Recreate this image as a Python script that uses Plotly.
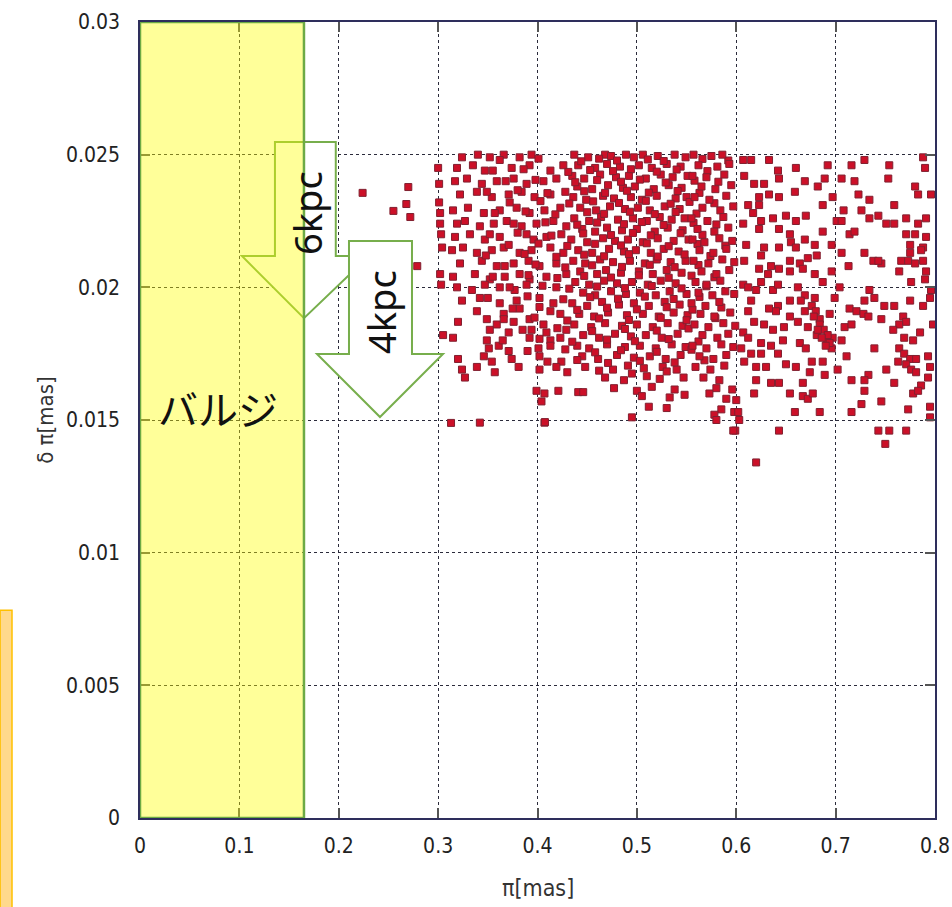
import plotly.graph_objects as go

# ---------------- data ----------------
x_ticks = [0, 0.1, 0.2, 0.3, 0.4, 0.5, 0.6, 0.7, 0.8]
x_tick_labels = ["0", "0.1", "0.2", "0.3", "0.4", "0.5", "0.6", "0.7", "0.8"]
y_ticks = [0, 0.005, 0.01, 0.015, 0.02, 0.025, 0.03]
y_tick_labels = ["0", "0.005", "0.01", "0.015", "0.02", "0.025", "0.03"]

bulge_range = [0.0, 0.165]          # π range of the bulge band (mas)
bulge_label = "バルジ"
arrow_labels = ["6kpc", "4kpc"]

# stars: (parallax π [mas], parallax error δπ [mas])
stars_020_031 = [
    (0.224, .02356), (0.270, .02378), (0.268, .02314), (0.255, .02288), (0.272, .02265), (0.279, .02080),
    (0.300, .02450), (0.301, .02390), (0.301, .02320), (0.302, .02280), (0.302, .02240), (0.303, .02200),
    (0.304, .02150), (0.302, .02050), (0.303, .02010), (0.305, .01820), (0.313, .01489),
]

stars_031_043 = [
    (0.324, .0249), (0.340, .0250), (0.352, .0249), (0.366, .0250), (0.382, .0249), (0.394, .0250),
    (0.319, .0245), (0.335, .0246), (0.347, .0244), (0.374, .0245), (0.392, .0246), (0.413, .0244), (0.426, .0246),
    (0.317, .0240), (0.329, .0241), (0.344, .0239), (0.359, .0240), (0.376, .0241), (0.389, .0239), (0.406, .0240), (0.419, .0241),
    (0.322, .0235), (0.339, .0236), (0.354, .0234), (0.371, .0235), (0.384, .0236), (0.397, .0234), (0.413, .0235), (0.428, .0236),
    (0.315, .0229), (0.330, .0230), (0.346, .0228), (0.362, .0229), (0.379, .0230), (0.392, .0228), (0.407, .0229), (0.423, .0230),
    (0.319, .0224), (0.327, .0225), (0.342, .0223), (0.356, .0224), (0.369, .0225), (0.384, .0223), (0.399, .0224), (0.416, .0225), (0.429, .0223),
    (0.317, .0219), (0.332, .0220), (0.347, .0218), (0.362, .0219), (0.389, .0220), (0.396, .0218), (0.409, .0219), (0.424, .0220),
    (0.314, .0214), (0.325, .0215), (0.339, .0213), (0.354, .0214), (0.366, .0215), (0.382, .0213), (0.394, .0214), (0.413, .0215), (0.426, .0213),
    (0.322, .0209), (0.344, .0210), (0.359, .0208), (0.376, .0209), (0.391, .0210), (0.402, .0208), (0.419, .0209),
    (0.315, .0204), (0.337, .0205), (0.352, .0203), (0.367, .0204), (0.382, .0205), (0.392, .0203), (0.409, .0204), (0.429, .0205),
    (0.319, .0200), (0.334, .0199), (0.347, .0201), (0.362, .0200), (0.377, .0199), (0.389, .0201), (0.419, .0200),
    (0.324, .0195), (0.342, .0196), (0.362, .0194), (0.379, .0195), (0.402, .0196), (0.416, .0194),
    (0.339, .0191), (0.366, .0190), (0.382, .0192), (0.413, .0191), (0.423, .0190),
    (0.320, .0187), (0.349, .0188), (0.359, .0186), (0.376, .0187), (0.392, .0188), (0.406, .0186),
    (0.352, .0184), (0.371, .0183), (0.394, .0184), (0.409, .0183), (0.429, .0184),
    (0.315, .0181), (0.349, .0180), (0.392, .0181), (0.413, .0180), (0.423, .0181),
    (0.351, .0177), (0.361, .0178), (0.371, .0176), (0.401, .0177), (0.413, .0178),
    (0.320, .0173), (0.346, .0174), (0.354, .0172), (0.374, .0173), (0.402, .0174), (0.424, .0172),
    (0.324, .0169), (0.339, .0170), (0.357, .0168), (0.381, .0170), (0.402, .0169), (0.419, .0170),
    (0.327, .0166), (0.399, .0161), (0.407, .0160), (0.421, .0161), (0.404, .0157),
    (0.342, .0149), (0.407, .0149),
]

stars_043_055 = [
    (0.437, .02500), (0.451, .02490), (0.468, .02500), (0.474, .02495), (0.489, .02500), (0.497, .02490), (0.506, .02500), (0.521, .02495), (0.538, .02500), (0.549, .02490),
    (0.441, .02460), (0.458, .02450), (0.470, .02465), (0.483, .02455), (0.502, .02460), (0.515, .02450), (0.530, .02465), (0.544, .02455),
    (0.435, .02420), (0.447, .02410), (0.463, .02425), (0.479, .02415), (0.492, .02420), (0.509, .02410), (0.524, .02425), (0.536, .02415), (0.551, .02420),
    (0.440, .02380), (0.455, .02370), (0.471, .02385), (0.486, .02375), (0.498, .02380), (0.517, .02370), (0.532, .02385), (0.545, .02375),
    (0.436, .02340), (0.449, .02330), (0.466, .02345), (0.477, .02335), (0.494, .02340), (0.505, .02330), (0.520, .02345), (0.539, .02335), (0.550, .02340),
    (0.443, .02300), (0.459, .02290), (0.473, .02305), (0.488, .02295), (0.501, .02300), (0.513, .02290), (0.528, .02305), (0.543, .02295),
    (0.437, .02260), (0.452, .02250), (0.464, .02265), (0.481, .02255), (0.496, .02260), (0.510, .02250), (0.523, .02265), (0.535, .02255), (0.548, .02260),
    (0.445, .02220), (0.458, .02210), (0.470, .02225), (0.485, .02215), (0.500, .02220), (0.518, .02210), (0.531, .02225), (0.546, .02215),
    (0.434, .02180), (0.450, .02170), (0.466, .02185), (0.478, .02175), (0.491, .02180), (0.506, .02170), (0.521, .02185), (0.537, .02175), (0.552, .02180),
    (0.441, .02140), (0.455, .02130), (0.472, .02145), (0.487, .02135), (0.499, .02140), (0.514, .02130), (0.527, .02145), (0.542, .02135),
    (0.436, .02100), (0.448, .02090), (0.463, .02105), (0.476, .02095), (0.493, .02100), (0.508, .02090), (0.520, .02105), (0.534, .02095), (0.549, .02100),
    (0.443, .02060), (0.460, .02050), (0.469, .02065), (0.484, .02055), (0.502, .02060), (0.516, .02050), (0.530, .02065), (0.545, .02055),
    (0.438, .02020), (0.452, .02010), (0.467, .02025), (0.480, .02015), (0.495, .02020), (0.511, .02010), (0.524, .02025), (0.539, .02015),
    (0.446, .01980), (0.458, .01970), (0.474, .01985), (0.489, .01975), (0.503, .01980), (0.519, .01970), (0.533, .01985), (0.550, .01975),
    (0.435, .01940), (0.450, .01930), (0.465, .01945), (0.482, .01935), (0.497, .01940), (0.512, .01930), (0.528, .01945), (0.543, .01935),
    (0.442, .01900), (0.457, .01890), (0.471, .01905), (0.490, .01895), (0.506, .01900), (0.522, .01890), (0.537, .01905), (0.551, .01895),
    (0.437, .01860), (0.454, .01850), (0.468, .01865), (0.485, .01855), (0.500, .01860), (0.516, .01850), (0.531, .01865), (0.546, .01855),
    (0.446, .01820), (0.462, .01810), (0.478, .01825), (0.494, .01815), (0.509, .01820), (0.525, .01810), (0.541, .01825),
    (0.440, .01780), (0.452, .01770), (0.470, .01785), (0.488, .01775), (0.503, .01780), (0.519, .01770), (0.535, .01785), (0.549, .01775),
    (0.445, .01740), (0.461, .01730), (0.480, .01745), (0.497, .01735), (0.513, .01740), (0.529, .01730), (0.544, .01745),
    (0.448, .01700), (0.476, .01690), (0.491, .01705), (0.507, .01695), (0.526, .01700), (0.540, .01690),
    (0.468, .01660), (0.487, .01650), (0.510, .01665), (0.523, .01655), (0.547, .01660),
    (0.477, .01620), (0.500, .01610), (0.515, .01625), (0.538, .01615),
    (0.441, .01605), (0.446, .01605), (0.505, .01590), (0.533, .01585), (0.548, .01595),
    (0.512, .01550), (0.530, .01545), (0.495, .01510), (0.4075, .01492),
]

stars_035_059_fill = [
    (0.362, .02480), (0.401, .02485), (0.444, .02475), (0.462, .02485), (0.480, .02478), (0.511, .02482), (0.527, .02476), (0.566, .02484), (0.592, .02478),
    (0.355, .02440), (0.386, .02445), (0.431, .02435), (0.453, .02442), (0.476, .02438), (0.494, .02445), (0.520, .02436), (0.540, .02444), (0.571, .02438),
    (0.368, .02400), (0.398, .02405), (0.438, .02396), (0.460, .02404), (0.484, .02398), (0.503, .02406), (0.529, .02395), (0.558, .02402), (0.582, .02398),
    (0.349, .02360), (0.380, .02366), (0.410, .02355), (0.447, .02362), (0.468, .02356), (0.490, .02364), (0.512, .02357), (0.541, .02363), (0.563, .02356),
    (0.372, .02320), (0.403, .02325), (0.432, .02316), (0.456, .02324), (0.482, .02318), (0.509, .02326), (0.534, .02315), (0.553, .02322), (0.578, .02317),
    (0.357, .02280), (0.388, .02286), (0.418, .02275), (0.450, .02283), (0.467, .02277), (0.493, .02285), (0.518, .02276), (0.539, .02284), (0.560, .02278),
    (0.376, .02240), (0.408, .02245), (0.440, .02236), (0.460, .02244), (0.487, .02238), (0.505, .02246), (0.527, .02235), (0.557, .02243), (0.580, .02237),
    (0.352, .02200), (0.380, .02206), (0.414, .02195), (0.446, .02203), (0.474, .02197), (0.496, .02205), (0.514, .02196), (0.544, .02204), (0.566, .02198),
    (0.371, .02160), (0.401, .02165), (0.430, .02156), (0.458, .02164), (0.484, .02158), (0.510, .02166), (0.532, .02155), (0.561, .02163), (0.589, .02157),
    (0.348, .02120), (0.387, .02126), (0.419, .02115), (0.447, .02123), (0.467, .02117), (0.492, .02125), (0.521, .02116), (0.548, .02124), (0.574, .02118),
    (0.367, .02080), (0.398, .02086), (0.428, .02075), (0.455, .02083), (0.485, .02077), (0.513, .02085), (0.538, .02076), (0.562, .02084),
    (0.355, .02040), (0.391, .02046), (0.420, .02035), (0.447, .02043), (0.474, .02037), (0.502, .02045), (0.532, .02036), (0.555, .02044), (0.578, .02038),
    (0.372, .02000), (0.405, .02006), (0.432, .01995), (0.460, .02003), (0.488, .01997), (0.515, .02005), (0.545, .01996), (0.570, .02004),
    (0.350, .01960), (0.390, .01966), (0.426, .01955), (0.453, .01963), (0.481, .01957), (0.508, .01965), (0.537, .01956), (0.563, .01964),
    (0.375, .01920), (0.402, .01926), (0.440, .01915), (0.470, .01923), (0.500, .01917), (0.530, .01925), (0.556, .01916), (0.585, .01924),
    (0.366, .01880), (0.397, .01886), (0.430, .01875), (0.462, .01883), (0.492, .01877), (0.524, .01885), (0.550, .01876), (0.579, .01884),
    (0.385, .01840), (0.420, .01846), (0.455, .01835), (0.488, .01843), (0.520, .01837), (0.552, .01845),
    (0.365, .01800), (0.402, .01806), (0.435, .01795), (0.470, .01803), (0.498, .01797), (0.532, .01805), (0.562, .01796),
    (0.390, .01760), (0.428, .01766), (0.458, .01755), (0.484, .01763), (0.520, .01757), (0.555, .01765),
    (0.410, .01720), (0.440, .01726), (0.471, .01715), (0.503, .01723), (0.538, .01717), (0.568, .01725),
    (0.430, .01680), (0.462, .01686), (0.495, .01675), (0.530, .01683),
]

stars_055_060 = [
    (0.557, .02500), (0.575, .02495), (0.586, .02500),
    (0.562, .02460), (0.581, .02455), (0.593, .02465),
    (0.556, .02420), (0.570, .02415), (0.588, .02425),
    (0.565, .02380), (0.579, .02370), (0.595, .02385),
    (0.558, .02340), (0.573, .02330), (0.590, .02345),
    (0.566, .02300), (0.584, .02290), (0.597, .02305),
    (0.555, .02260), (0.571, .02250), (0.587, .02265),
    (0.561, .02220), (0.578, .02210), (0.592, .02225),
    (0.556, .02180), (0.568, .02170), (0.583, .02185), (0.596, .02175),
    (0.563, .02140), (0.577, .02130), (0.590, .02145),
    (0.557, .02100), (0.572, .02090), (0.586, .02105), (0.598, .02095),
    (0.565, .02060), (0.580, .02050), (0.593, .02065),
    (0.559, .02020), (0.570, .02010), (0.584, .02025),
    (0.562, .01980), (0.576, .01970), (0.589, .01985), (0.598, .01975),
    (0.555, .01940), (0.569, .01930), (0.583, .01945),
    (0.564, .01900), (0.578, .01890), (0.594, .01905),
    (0.558, .01860), (0.572, .01850), (0.587, .01865), (0.599, .01855),
    (0.566, .01820), (0.581, .01810), (0.592, .01825),
    (0.556, .01780), (0.570, .01770), (0.585, .01785), (0.597, .01775),
    (0.563, .01740), (0.577, .01730), (0.590, .01745),
    (0.559, .01700), (0.574, .01690), (0.588, .01705),
    (0.567, .01660), (0.583, .01650),
    (0.573, .01600), (0.580, .01620), (0.596, .01615),
    (0.590, .01580), (0.600, .01575),
    (0.585, .01540), (0.598, .01530), (0.578, .01520), (0.580, .01500), (0.599, .01460),
]

stars_060_067 = [
    (0.607, .0248), (0.615, .0248), (0.633, .0248), (0.642, .0244), (0.660, .0245), (0.608, .0242), (0.618, .0239),
    (0.628, .0239), (0.643, .0241), (0.669, .0240), (0.623, .0234), (0.633, .0235), (0.643, .0234), (0.659, .0236),
    (0.612, .0231), (0.623, .0231), (0.617, .0228), (0.625, .0225), (0.637, .0226), (0.650, .0227), (0.660, .0225),
    (0.670, .0227), (0.607, .0224), (0.623, .0222), (0.643, .0222), (0.654, .0220), (0.655, .0217), (0.669, .0218),
    (0.610, .0216), (0.628, .0215), (0.643, .0215), (0.660, .0215), (0.625, .0212), (0.608, .0210), (0.635, .0208),
    (0.654, .0210), (0.664, .0209), (0.672, .0211), (0.623, .0207), (0.632, .0205), (0.643, .0207), (0.654, .0206),
    (0.667, .0207), (0.607, .0201), (0.612, .0200), (0.620, .0199), (0.625, .0202), (0.637, .0199), (0.642, .0201),
    (0.662, .0200), (0.669, .0197), (0.615, .0195), (0.633, .0192), (0.642, .0193), (0.654, .0195), (0.665, .0195),
    (0.612, .0191), (0.640, .0191), (0.654, .0189), (0.669, .0191), (0.618, .0187), (0.628, .0186), (0.637, .0184),
    (0.648, .0185), (0.662, .0187), (0.672, .0185), (0.607, .0183), (0.612, .0181), (0.625, .0179), (0.635, .0178),
    (0.647, .0180), (0.664, .0179), (0.605, .0177), (0.615, .0175), (0.625, .0175), (0.642, .0175), (0.670, .0177),
    (0.608, .0172), (0.620, .0170), (0.630, .0170), (0.650, .0171), (0.660, .0170), (0.674, .0168), (0.620, .0165),
    (0.635, .0164), (0.643, .0164), (0.667, .0164), (0.618, .0160), (0.654, .0160), (0.667, .0159), (0.672, .0158),
    (0.602, .0153), (0.603, .0150), (0.659, .0153), (0.643, .0146), (0.620, .0134), (0.597, .0146),
]

stars_067_080 = [
    (0.729, .0248), (0.788, .0249), (0.790, .0245), (0.692, .0246), (0.716, .0246), (0.754, .0246), (0.706, .0241),
    (0.719, .0240), (0.753, .0241), (0.689, .0241), (0.682, .0238), (0.780, .0238), (0.783, .0235), (0.796, .0235),
    (0.723, .0235), (0.734, .0233), (0.759, .0231), (0.687, .0231), (0.697, .0234), (0.708, .0229), (0.726, .0229),
    (0.734, .0226), (0.743, .0227), (0.751, .0224), (0.759, .0224), (0.771, .0226), (0.783, .0224), (0.791, .0226),
    (0.701, .0225), (0.706, .0225), (0.687, .0221), (0.714, .0220), (0.719, .0221), (0.771, .0220), (0.780, .0220),
    (0.791, .0219), (0.679, .0216), (0.696, .0216), (0.775, .0216), (0.788, .0215), (0.681, .0212), (0.706, .0213),
    (0.729, .0213), (0.775, .0213), (0.786, .0214), (0.738, .0210), (0.746, .0209), (0.743, .0210), (0.766, .0210),
    (0.773, .0210), (0.780, .0209), (0.788, .0210), (0.713, .0208), (0.679, .0205), (0.696, .0206), (0.764, .0206),
    (0.791, .0206), (0.687, .0202), (0.776, .0202), (0.790, .0203), (0.704, .0200), (0.734, .0199), (0.796, .0199),
    (0.679, .0196), (0.699, .0196), (0.729, .0195), (0.739, .0196), (0.749, .0193), (0.759, .0193), (0.775, .0195),
    (0.788, .0193), (0.795, .0196), (0.714, .0192), (0.721, .0191), (0.728, .0190), (0.733, .0189), (0.746, .0188),
    (0.768, .0189), (0.684, .0188), (0.694, .0190), (0.709, .0185), (0.716, .0186), (0.764, .0186), (0.771, .0187),
    (0.758, .0184), (0.798, .0186), (0.706, .0180), (0.785, .0183), (0.778, .0180), (0.697, .0181), (0.769, .0181),
    (0.681, .0182), (0.691, .0180), (0.696, .0177), (0.739, .0177), (0.764, .0177), (0.769, .0175), (0.775, .0173),
    (0.781, .0173), (0.711, .0174), (0.793, .0174), (0.687, .0172), (0.676, .0172), (0.763, .0172), (0.771, .0171),
    (0.776, .0169), (0.781, .0168), (0.702, .0169), (0.751, .0169), (0.795, .0170), (0.689, .0167), (0.733, .0167),
    (0.729, .0165), (0.716, .0165), (0.759, .0164), (0.793, .0166), (0.786, .0163), (0.729, .0161), (0.778, .0160),
    (0.783, .0161), (0.677, .0160), (0.726, .0156), (0.746, .0157), (0.716, .0153), (0.684, .0153), (0.773, .0154),
    (0.795, .0155), (0.795, .0151), (0.743, .0146), (0.754, .0146), (0.771, .0146), (0.750, .0141),
    (0.676, .0193), (0.680, .0191), (0.684, .0186), (0.688, .0184), (0.692, .0182), (0.694, .0179),
    (0.690, .0178), (0.686, .0181), (0.682, .0184), (0.678, .0189),
]

# ---------------- figure ----------------
all_stars = (stars_020_031 + stars_031_043 + stars_043_055 + stars_035_059_fill
             + stars_055_060 + stars_060_067 + stars_067_080)
star_pi = [s[0] for s in all_stars]
star_dpi = [s[1] for s in all_stars]

fig = go.Figure()
fig.add_trace(go.Scatter(
    x=star_pi, y=star_dpi, mode="markers",
    marker=dict(symbol="square", size=7, color="#CC1028",
                line=dict(color="#802030", width=1)),
    showlegend=False, hoverinfo="skip",
))

GREEN = "#77AE4C"


def arrow_path(shaft_x0, shaft_x1, top, base, head_x0, head_x1, tip_x, tip_y):
    return (f"M{shaft_x0},{top} L{shaft_x1},{top} L{shaft_x1},{base} L{head_x1},{base} "
            f"L{tip_x},{tip_y} L{head_x0},{base} L{shaft_x0},{base} Z")


shapes = [
    # orange side box (slide decoration)
    dict(type="rect", xref="paper", yref="paper", x0=-0.176, x1=-0.161, y0=-0.2, y1=0.261,
         fillcolor="#FFD98C", line=dict(color="#FFC000", width=1.5), layer="above"),
    # 6kpc arrow
    dict(type="path", xref="x", yref="y",
         path=arrow_path(0.1358, 0.197, 0.02548, 0.02118, 0.1026, 0.2304, 0.165, 0.01884),
         fillcolor="white", line=dict(color=GREEN, width=2), layer="above"),
    # 4kpc arrow
    dict(type="path", xref="x", yref="y",
         path=arrow_path(0.2103, 0.2737, 0.02175, 0.01749, 0.1781, 0.3049, 0.2415, 0.01511),
         fillcolor="white", line=dict(color=GREEN, width=2), layer="above"),
    # bulge band
    dict(type="rect", xref="x", yref="y", x0=bulge_range[0], x1=bulge_range[1], y0=0, y1=0.03,
         fillcolor="rgba(255,255,0,0.40)", line=dict(color="#6DAA45", width=2.5), layer="above"),
]

NARROW = "Liberation Sans Narrow, DejaVu Sans Condensed, Arial Narrow, sans-serif"
TICKFONT = dict(family=NARROW, size=21, color="#222222")

annotations = [
    dict(text=arrow_labels[0], x=0.168, y=0.0228, xref="x", yref="y", showarrow=False,
         textangle=-90, font=dict(family="Noto Sans, Open Sans, sans-serif", size=38, color="#111111")),
    dict(text=arrow_labels[1], x=0.2425, y=0.01907, xref="x", yref="y", showarrow=False,
         textangle=-90, font=dict(family="Noto Sans, Open Sans, sans-serif", size=38, color="#111111")),
    dict(text=bulge_label, x=0.0785, y=0.01545, xref="x", yref="y", showarrow=False,
         font=dict(family="Noto Sans CJK JP, sans-serif", size=40, color="#111111")),
    dict(text="δ π[mas]", x=-0.138, y=0.5, xref="paper", yref="paper", showarrow=False,
         textangle=-90, font=dict(family=NARROW, size=22, color="#333333")),
    dict(text="π[mas]", x=0.5, y=-0.0885, xref="paper", yref="paper", showarrow=False,
         yanchor="middle", font=dict(family=NARROW, size=23, color="#333333")),
]

axis_common = dict(
    showline=True, linecolor="#2E2E5C", linewidth=1.5, mirror="ticks",
    showgrid=True, gridcolor="#2B2B3B", gridwidth=1, griddash="dot",
    ticks="inside", ticklen=10, tickcolor="#555555", tickwidth=1.5,
    zeroline=False, tickfont=TICKFONT, automargin=False,
)

fig.update_layout(
    width=952, height=907,
    margin=dict(l=140, r=17, t=22, b=89),
    paper_bgcolor="white", plot_bgcolor="white",
    xaxis=dict(range=[0, 0.8], tickvals=x_ticks, ticktext=x_tick_labels,
               ticklabelstandoff=8, **axis_common),
    yaxis=dict(range=[0, 0.03], tickvals=y_ticks, ticktext=y_tick_labels,
               ticklabelstandoff=14, **axis_common),
    shapes=shapes, annotations=annotations,
)

fig.write_html("out.html")
